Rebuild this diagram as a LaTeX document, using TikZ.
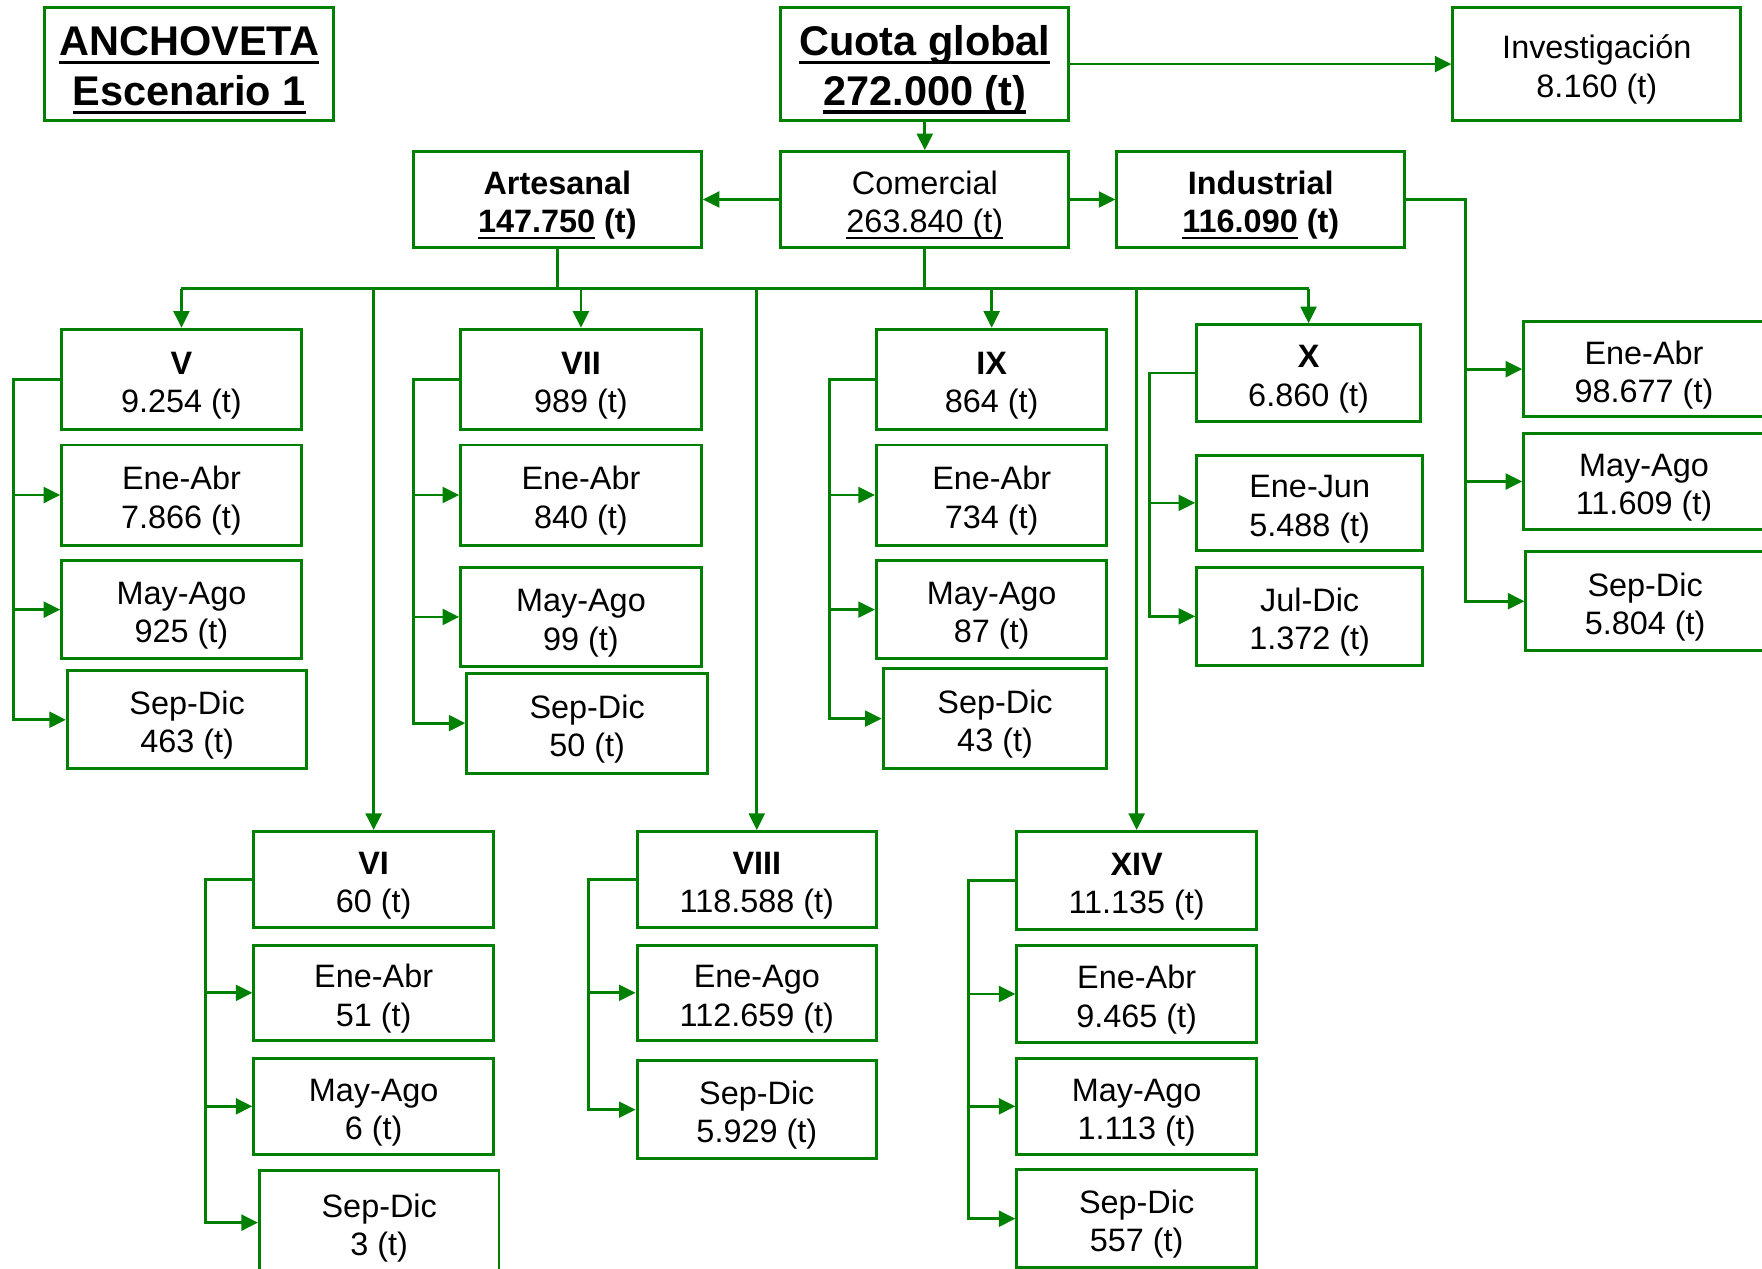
\documentclass[tikz,border=0pt]{standalone}
\usepackage{fontspec}
\setmainfont{Liberation Sans}
\usetikzlibrary{arrows.meta}
\definecolor{verde}{RGB}{0,128,0}
\newcommand{\subrayar}[1]{\setbox0\hbox{#1}\rlap{\rule[-0.2em]{\wd0}{0.075em}}\box0\relax}

\begin{document}
\begin{tikzpicture}[x=0.01cm, y=-0.01cm,
  caja/.style={draw=verde, line width=0.75pt, align=center, inner sep=0pt, text height=18.5pt,
    minimum width=2.13cm, minimum height=0.87cm, font=\fontsize{8.2}{9.7}\selectfont},
  mayor/.style={caja, minimum width=2.56cm, minimum height=0.85cm},
  titulo/.style={caja, minimum width=2.56cm, minimum height=1cm, text height=23pt,
    font=\fontsize{10.5}{12.5}\selectfont\bfseries},
  linea/.style={draw=verde, line width=0.7pt},
  flecha/.style={linea, -{Triangle[length=4.2pt,width=4pt]}}]
 \useasboundingbox (0,0) rectangle (1568,1129);
 \node[titulo, minimum width=2.57cm] (anch) at (168.5,57) {\subrayar{ANCHOVETA}\\\subrayar{Escenario 1}};
 \node[titulo] (cuota) at (823,57) {\subrayar{Cuota global}\\\subrayar{272.000 (t)}};
 \node[caja, minimum width=2.56cm, minimum height=1cm] (inv) at (1421,57) {Investigación\\8.160 (t)};
 \node[mayor] (art) at (496,177.5) {\textbf{Artesanal}\\\textbf{\subrayar{147.750} (t)}};
 \node[mayor] (com) at (823,177.5) {Comercial\\\subrayar{263.840 (t)}};
 \node[mayor] (ind) at (1122,177.5) {\textbf{Industrial}\\\textbf{\subrayar{116.090} (t)}};

 \node[caja, minimum height=0.89cm] (V) at (161.5,337.5) {\textbf{V}\\9.254 (t)};
 \node[caja, minimum height=0.89cm] (V1) at (161.5,440.5) {Ene-Abr\\7.866 (t)};
 \node[caja] (V2) at (161.5,542.5) {May-Ago\\925 (t)};
 \node[caja] (V3) at (166.5,640.5) {Sep-Dic\\463 (t)};

 \node[caja, minimum width=2.14cm, minimum height=0.89cm] (VII) at (517,337.5) {\textbf{VII}\\989 (t)};
 \node[caja, minimum width=2.14cm, minimum height=0.89cm] (VII1) at (517,440.5) {Ene-Abr\\840 (t)};
 \node[caja, minimum width=2.14cm, minimum height=0.88cm] (VII2) at (517,549) {May-Ago\\99 (t)};
 \node[caja, minimum width=2.14cm, minimum height=0.89cm] (VII3) at (522.5,643.5) {Sep-Dic\\50 (t)};

 \node[caja, minimum width=2.05cm, minimum height=0.89cm] (IX) at (882.5,337.5) {\textbf{IX}\\864 (t)};
 \node[caja, minimum width=2.05cm, minimum height=0.89cm] (IX1) at (882.5,440.5) {Ene-Abr\\734 (t)};
 \node[caja, minimum width=2.05cm] (IX2) at (882.5,542.5) {May-Ago\\87 (t)};
 \node[caja, minimum width=1.99cm, minimum height=0.89cm] (IX3) at (885.5,639.5) {Sep-Dic\\43 (t)};

 \node[caja, minimum width=1.99cm, minimum height=0.86cm] (X) at (1164.5,332) {\textbf{X}\\6.860 (t)};
 \node[caja, minimum width=2.01cm, minimum height=0.85cm] (X1) at (1165.5,447.5) {Ene-Jun\\5.488 (t)};
 \node[caja, minimum width=2.01cm] (X2) at (1165.5,548.5) {Jul-Dic\\1.372 (t)};

 \node[caja, minimum width=2.14cm, minimum height=0.85cm] (I1) at (1463,328.5) {Ene-Abr\\98.677 (t)};
 \node[caja, minimum width=2.14cm, minimum height=0.85cm] (I2) at (1463,428.5) {May-Ago\\11.609 (t)};
 \node[caja, minimum width=2.12cm, minimum height=0.88cm] (I3) at (1464,535) {Sep-Dic\\5.804 (t)};

 \node[caja, minimum height=0.85cm] (VI) at (332.5,782.5) {\textbf{VI}\\60 (t)};
 \node[caja, minimum height=0.85cm] (VI1) at (332.5,883.5) {Ene-Abr\\51 (t)};
 \node[caja, minimum height=0.85cm] (VI2) at (332.5,984.5) {May-Ago\\6 (t)};
 \node[caja, minimum height=0.92cm] (VI3) at (337.5,1088) {Sep-Dic\\3 (t)};

 \node[caja, minimum height=0.85cm] (VIII) at (673.5,782.5) {\textbf{VIII}\\118.588 (t)};
 \node[caja, minimum height=0.85cm] (VIII1) at (673.5,883.5) {Ene-Ago\\112.659 (t)};
 \node[caja] (VIII2) at (673.5,987.5) {Sep-Dic\\5.929 (t)};

 \node[caja] (XIV) at (1011.5,783.5) {\textbf{XIV}\\11.135 (t)};
 \node[caja] (XIV1) at (1011.5,884.5) {Ene-Abr\\9.465 (t)};
 \node[caja, minimum height=0.85cm] (XIV2) at (1011.5,984.5) {May-Ago\\1.113 (t)};
 \node[caja] (XIV3) at (1011.5,1084.5) {Sep-Dic\\557 (t)};

 \draw[flecha] (cuota) -- (inv);
 \draw[flecha] (cuota) -- (com);
 \draw[flecha] (com) -- (art);
 \draw[flecha] (com) -- (ind);

 \coordinate (bus) at (0,257);
 \draw[linea] (art.south) -- (art.south |- bus);
 \draw[linea] (com.south) -- (com.south |- bus);
 \draw[linea] (V.north |- bus) -- (X.north |- bus);
 \foreach \r in {V,VII,IX,X,VI,VIII,XIV}
   \draw[flecha] (\r.north |- bus) -- (\r.north);

 \coordinate (bV) at (12,0);
 \coordinate (bVII) at (368,0);
 \coordinate (bIX) at (738,0);
 \coordinate (bX) at (1023,0);
 \coordinate (bI) at (1304,0);
 \coordinate (bVI) at (183,0);
 \coordinate (bVIII) at (524,0);
 \coordinate (bXIV) at (862,0);

 \foreach \h in {V1,V2,V3} \draw[flecha] (V.west) -- (V.west -| bV) |- (\h.west);
 \foreach \h in {VII1,VII2,VII3} \draw[flecha] (VII.west) -- (VII.west -| bVII) |- (\h.west);
 \foreach \h in {IX1,IX2,IX3} \draw[flecha] (IX.west) -- (IX.west -| bIX) |- (\h.west);
 \foreach \h in {X1,X2} \draw[flecha] (X.west) -- (X.west -| bX) |- (\h.west);
 \foreach \h in {I1,I2,I3} \draw[flecha] (ind.east) -- (ind.east -| bI) |- (\h.west);
 \foreach \h in {VI1,VI2,VI3} \draw[flecha] (VI.west) -- (VI.west -| bVI) |- (\h.west);
 \foreach \h in {VIII1,VIII2} \draw[flecha] (VIII.west) -- (VIII.west -| bVIII) |- (\h.west);
 \foreach \h in {XIV1,XIV2,XIV3} \draw[flecha] (XIV.west) -- (XIV.west -| bXIV) |- (\h.west);
\end{tikzpicture}
\end{document}
